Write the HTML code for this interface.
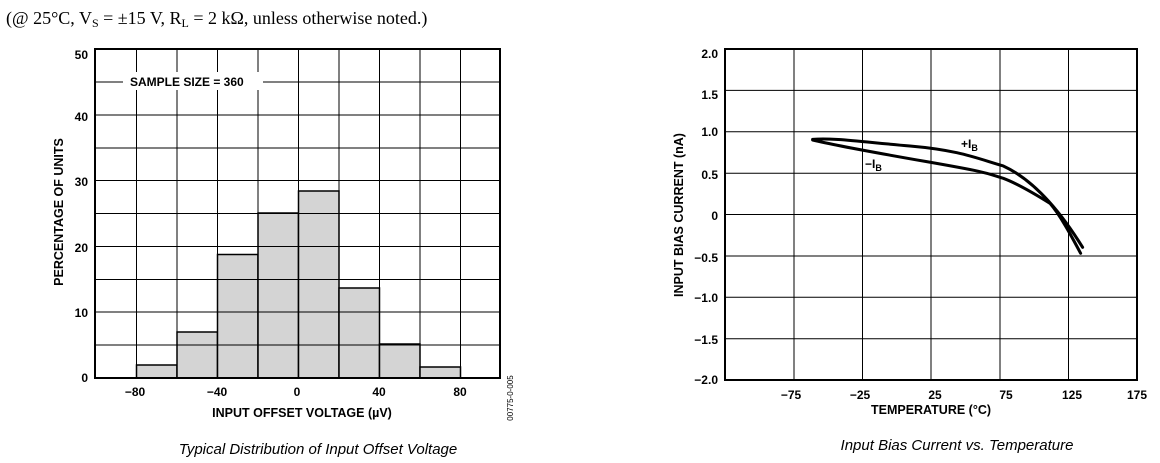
<!DOCTYPE html>
<html><head><style>
body{margin:0;background:#fff;}
svg{display:block}
</style></head><body>
<svg width="1160" height="463" xmlns="http://www.w3.org/2000/svg" font-family="Liberation Sans, Arial, sans-serif">
<text x="6" y="24" font-family="Liberation Serif, serif" font-size="18">(@ 25°C, V<tspan font-size="12" dy="3">S</tspan><tspan dy="-3"> = ±15 V, R</tspan><tspan font-size="12" dy="3">L</tspan><tspan dy="-3"> = 2 kΩ, unless otherwise noted.)</tspan></text>

<!-- Left chart -->
<g>
<g fill="#d4d4d4" stroke="#000" stroke-width="1.5">
<rect x="136.5" y="365" width="40.5" height="13"/>
<rect x="177" y="332" width="40.5" height="46"/>
<rect x="217.5" y="254.5" width="40.5" height="123.5"/>
<rect x="258" y="213" width="40.5" height="165"/>
<rect x="298.5" y="191" width="40.5" height="187"/>
<rect x="339" y="288" width="40.5" height="90"/>
<rect x="379.5" y="344" width="40.5" height="34"/>
<rect x="420" y="367" width="40.5" height="11"/>
</g>
<g stroke="#000" stroke-width="1">
<path d="M136.5 49V365M177 49V332M217.5 49V254.5M258 49V213M298.5 49V191M339 49V288M379.5 49V344M420 49V367M460.5 49V378"/>
<path d="M95 82H500M95 115H500M95 148H500M95 180.5H500M95 213.5H500M95 246.5H500M95 279.5H500M95 312H500M95 345H500"/>
</g>
<rect x="123" y="72" width="140" height="18" fill="#fff"/>
<rect x="95" y="49" width="405" height="329" fill="none" stroke="#000" stroke-width="2"/>
<text x="130" y="86" font-size="12" font-weight="bold">SAMPLE SIZE = 360</text>
<g font-size="12" font-weight="bold" text-anchor="end">
<text x="88" y="59">50</text><text x="88" y="121">40</text><text x="88" y="186">30</text>
<text x="88" y="252">20</text><text x="88" y="317">10</text><text x="88" y="382">0</text>
</g>
<g font-size="12" font-weight="bold" text-anchor="middle">
<text x="135" y="396">−80</text><text x="217" y="396">−40</text><text x="297" y="396">0</text>
<text x="379" y="396">40</text><text x="460" y="396">80</text>
</g>
<text x="302" y="417" font-size="12.5" font-weight="bold" text-anchor="middle">INPUT OFFSET VOLTAGE (µV)</text>
<text transform="translate(63,212) rotate(-90)" font-size="12.5" font-weight="bold" text-anchor="middle">PERCENTAGE OF UNITS</text>
<text transform="translate(513,398) rotate(-90)" font-size="8" text-anchor="middle">00775-0-005</text>
<text x="318" y="454" font-size="15" font-style="italic" text-anchor="middle">Typical Distribution of Input Offset Voltage</text>
</g>

<!-- Right chart -->
<g>
<g stroke="#000" stroke-width="1">
<path d="M794 49V380M862.5 49V380M931 49V380M1000 49V380M1068.5 49V380"/>
<path d="M725 90.4H1137M725 131.8H1137M725 173.2H1137M725 214.5H1137M725 256H1137M725 297.3H1137M725 338.7H1137"/>
</g>
<rect x="725" y="49" width="412" height="331" fill="none" stroke="#000" stroke-width="2"/>
<g transform="translate(660,40) scale(0.3333)" fill="none" stroke="#000" stroke-width="9" stroke-linecap="round">
<path d="M458 298 C520 293 600 305 750 318 S950 355 1030 378 C1100 410 1180 480 1268 622"/>
<path d="M458 300 C520 315 600 330 800 365 S980 400 1030 415 C1070 430 1130 465 1170 490 C1200 525 1230 580 1262 640"/>
</g>
<text x="961" y="148" font-size="12" font-weight="bold">+I<tspan font-size="9" dy="3">B</tspan></text>
<text x="865" y="168" font-size="12" font-weight="bold">−I<tspan font-size="9" dy="3">B</tspan></text>
<g font-size="12" font-weight="bold" text-anchor="end">
<text x="718" y="58">2.0</text><text x="718" y="99">1.5</text><text x="718" y="136">1.0</text>
<text x="718" y="179">0.5</text><text x="718" y="220">0</text><text x="718" y="262">−0.5</text>
<text x="718" y="302">−1.0</text><text x="718" y="344">−1.5</text><text x="718" y="384">−2.0</text>
</g>
<g font-size="12" font-weight="bold" text-anchor="middle">
<text x="791" y="399">−75</text><text x="860" y="399">−25</text><text x="935" y="399">25</text>
<text x="1006" y="399">75</text><text x="1072" y="399">125</text><text x="1137" y="399">175</text>
</g>
<text x="931" y="414" font-size="12.5" font-weight="bold" text-anchor="middle">TEMPERATURE (°C)</text>
<text transform="translate(683,215) rotate(-90)" font-size="12.5" font-weight="bold" text-anchor="middle">INPUT BIAS CURRENT (nA)</text>
<text x="957" y="450" font-size="15" font-style="italic" text-anchor="middle">Input Bias Current vs. Temperature</text>
</g>
</svg>
</body></html>
